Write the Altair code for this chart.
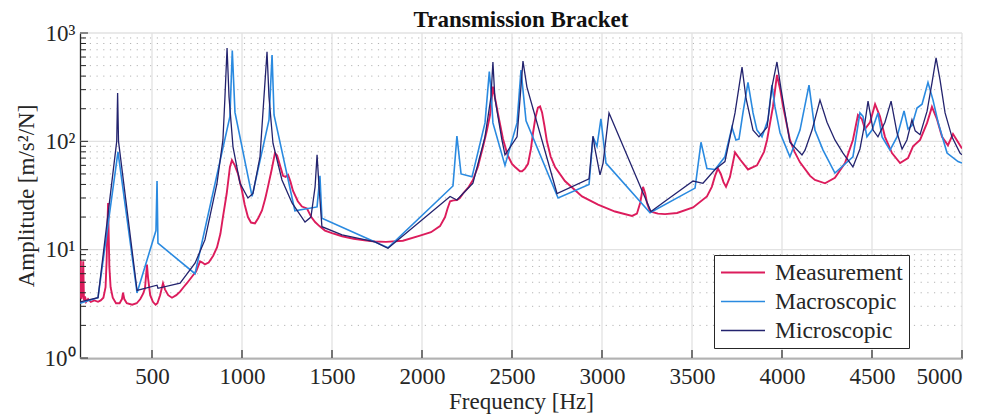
import altair as alt
import pandas as pd

# ---------------- data ----------------
series_names = ["Measurement", "Macroscopic", "Microscopic"]
series_colors = ["#dc1c5c", "#2a8ae0", "#23236e"]

meas_f = [100, 104, 108, 113, 118, 122, 128, 134, 145, 160, 180, 200, 215, 230, 242, 248, 253, 256, 259, 263,
          270, 282, 300, 320, 333, 339, 346, 360, 390, 415, 435, 450, 461, 468, 472, 478, 490, 505, 520, 530,
          545, 561, 572, 590, 611, 635, 656, 675, 694, 710, 728, 745, 767, 780, 794, 815, 840, 861, 880, 894,
          915, 933, 944, 960, 978, 1000, 1015, 1033, 1050, 1072, 1090, 1111, 1130, 1144, 1165, 1183, 1195, 1211,
          1228, 1242, 1256, 1270, 1283, 1310, 1333, 1361, 1385, 1406, 1430, 1461, 1500, 1556, 1620, 1680, 1739,
          1800, 1894, 1989, 2050, 2100, 2128, 2142, 2156, 2175, 2194, 2210, 2228, 2260, 2283, 2310, 2339, 2360,
          2378, 2394, 2408, 2422, 2450, 2475, 2500, 2517, 2544, 2556, 2572, 2589, 2605, 2617, 2630, 2644, 2656,
          2667, 2680, 2694, 2715, 2739, 2794, 2889, 2978, 3072, 3167, 3194, 3212, 3228, 3240, 3250, 3267, 3311,
          3350, 3417, 3506, 3583, 3610, 3628, 3644, 3660, 3675, 3689, 3711, 3739, 3767, 3811, 3861, 3900, 3917,
          3950, 3972, 3990, 4006, 4044, 4070, 4100, 4156, 4183, 4239, 4294, 4350, 4394, 4422, 4444, 4461, 4489,
          4517, 4544, 4572, 4611, 4656, 4700, 4728, 4767, 4806, 4833, 4861, 4889, 4922, 4950, 4975, 5000]
meas_a = [3.6, 8.0, 3.5, 3.8, 7.8, 3.4, 3.7, 3.3, 3.5, 3.3, 3.4, 3.3, 3.4, 3.6, 4.5, 8.0, 18, 27, 15, 7,
          4.5, 3.6, 3.2, 3.2, 3.5, 4.0, 3.5, 3.2, 3.1, 3.2, 3.5, 3.9, 4.4, 6.0, 7.3, 5.5, 3.8, 3.3, 3.1, 3.2,
          3.8, 4.9, 4.3, 3.8, 3.6, 3.8, 4.1, 4.5, 4.9, 5.3, 5.8, 6.3, 7.8, 7.6, 7.3, 7.6, 8.8, 10.5, 14, 20,
          33, 58, 67, 60, 50, 35, 26, 20, 17.8, 17.5, 19.5, 23, 30, 38, 55, 78, 74, 60,
          48, 47, 49, 42, 35, 28, 25, 24, 20, 18, 16.5, 15, 14.2, 13.3, 12.6, 12.2, 11.9,
          11.8, 12.1, 13.5, 14.5, 16.5, 20, 24, 28, 28.5, 28.7, 30, 33, 38, 44, 58, 89, 125,
          175, 320, 240, 180, 105, 75, 62, 58, 53, 53, 56, 62, 85, 120, 165, 205, 210,
          185, 140, 100, 72, 58, 43, 31, 26, 22.5, 20.5, 21.5, 27, 38, 33, 27, 22.5, 21.5,
          21.3, 21.8, 24.5, 31, 38, 48, 56, 50, 42, 38, 47, 79, 68, 55, 60, 80, 103,
          210, 410, 300, 210, 103, 80, 64, 48, 44, 41, 46, 63, 103, 175, 160, 130, 150,
          220, 170, 110, 78, 63, 70, 90, 103, 148, 208, 160, 110, 92, 117, 100, 86]

macro_f = [100, 200, 311, 417, 522, 528, 533, 739, 933, 946, 961, 1056, 1150, 1167, 1178, 1294, 1417, 1433,
           1444, 1811, 2172, 2194, 2217, 2278, 2350, 2374, 2383, 2394, 2461, 2528, 2550, 2578, 2756, 2928,
           2950, 2972, 2994, 3022, 3267, 3517, 3550, 3583, 3628, 3683, 3722, 3744, 3761, 3783, 3811, 3839,
           3861, 3889, 3922, 3944, 3961, 3989, 4044, 4100, 4150, 4183, 4228, 4294, 4394, 4433, 4450, 4472,
           4500, 4533, 4556, 4600, 4639, 4678, 4700, 4722, 4750, 4778, 4811, 4839, 4867, 4917, 4978, 5000]
macro_a = [3.2, 3.6, 80, 4.0, 15, 43, 11.5, 6.0, 170, 690, 185, 31, 158, 627, 175, 22.8, 24.8, 48,
           19.5, 10.4, 38.7, 112, 50, 47, 148, 440, 300, 148, 60, 148, 455, 155, 30, 40,
           110, 90, 161, 63, 21.9, 37, 98, 56, 55, 72, 135, 103, 105, 183, 350, 183,
           127, 110, 158, 330, 208, 120, 72, 127, 330, 127, 83, 51, 72, 183, 170, 110,
           127, 183, 110, 83, 110, 191, 130, 140, 203, 220, 350, 240, 150, 78, 65, 63]

micro_f = [100, 200, 304, 309, 314, 417, 528, 533, 656, 739, 794, 861, 894, 905, 917, 928, 950, 989, 1033,
           1061, 1100, 1122, 1139, 1150, 1172, 1222, 1278, 1350, 1383, 1406, 1417, 1428, 1444, 1556, 1739,
           1811, 2156, 2194, 2228, 2283, 2350, 2383, 2394, 2405, 2444, 2461, 2528, 2561, 2583, 2750, 2928,
           2950, 2961, 2989, 3006, 3039, 3272, 3350, 3506, 3561, 3628, 3683, 3739, 3778, 3800, 3839, 3872,
           3917, 3944, 3972, 3995, 4044, 4111, 4128, 4167, 4211, 4250, 4294, 4339, 4394, 4433, 4461, 4478,
           4506, 4533, 4572, 4606, 4639, 4667, 4694, 4722, 4740, 4767, 4806, 4833, 4856, 4878, 4906, 4944,
           4989, 5000]
micro_a = [3.3, 3.6, 100, 280, 100, 4.2, 4.7, 4.4, 4.9, 7.5, 12.3, 41, 103, 250, 727, 256, 89, 41, 30,
           33, 72, 256, 670, 256, 96, 44, 27, 18, 20, 38, 75, 38, 16.3, 13.7, 11.8,
           10.3, 31, 28.7, 33, 41, 110, 256, 540, 250, 103, 75, 110, 550, 317, 33, 45,
           112, 85, 49, 63, 183, 22.5, 28, 43, 41, 55, 65, 183, 485, 250, 127, 110,
           135, 317, 540, 300, 98, 75, 83, 127, 240, 150, 103, 78, 58, 85, 150, 235,
           127, 110, 150, 235, 120, 85, 103, 158, 125, 115, 190, 345, 590, 370, 183, 110,
           78, 75]

x_ticks = [500, 1000, 1500, 2000, 2500, 3000, 3500, 4000, 4500, 5000]
y_major = [1, 10, 100, 1000]
y_minor = [2, 3, 4, 5, 6, 7, 8, 9, 20, 30, 40, 50, 60, 70, 80, 90, 200, 300, 400, 500, 600, 700, 800, 900]

# ---------------- tables ----------------
frames = []
for name, fs, amps in zip(series_names, [meas_f, macro_f, micro_f], [meas_a, macro_a, micro_a]):
    frames.append(pd.DataFrame({"f": fs, "a": amps, "series": name, "idx": range(len(fs))}))
df = pd.concat(frames, ignore_index=True)

ymaj_df = pd.DataFrame({"a": y_major})
ymin_df = pd.DataFrame({"a": y_minor})
xtick_df = pd.DataFrame({"f": x_ticks})

FONT = "Liberation Serif"
TXT = "#262626"
FS = 23
W, H = 882, 325

xscale = alt.Scale(domain=[100, 5000], nice=False, zero=False)
yscale = alt.Scale(type="log", domain=[1, 1000], nice=False)

label_expr = ("datum.value == 1 ? '10\u2070' : datum.value == 10 ? '10\u00b9' : "
              "datum.value == 100 ? '10\u00b2' : datum.value == 1000 ? '10\u00b3' : ''")

x_axis = alt.Axis(values=x_ticks, format="d", grid=False, ticks=False, domainColor=TXT, domainWidth=1.3,
                  labelFont=FONT, labelFontSize=FS, labelColor=TXT, labelPadding=7,
                  title="Frequency [Hz]", titleFont=FONT, titleFontSize=FS,
                  titleFontWeight="normal", titleColor=TXT, titlePadding=2)
y_axis = alt.Axis(values=y_major, grid=False, ticks=False, domainColor=TXT, domainWidth=1.3,
                  labelExpr=label_expr, labelFont=FONT, labelFontSize=FS, labelColor=TXT,
                  labelPadding=5,
                  title="Amplitude [m/s\u00b2/N]", titleFont=FONT, titleFontSize=FS,
                  titleFontWeight="normal", titleColor=TXT, titlePadding=6)

X = alt.X("f:Q", scale=xscale, axis=x_axis)
Y = alt.Y("a:Q", scale=yscale, axis=y_axis)

# grids under the curves
minor_grid = alt.Chart(ymin_df).mark_rule(color="#b4b4b4", strokeWidth=1, strokeDash=[1.2, 5.5]).encode(y=Y)
major_ygrid = alt.Chart(ymaj_df).mark_rule(color="#e2e2e2", strokeWidth=1.3).encode(y=Y)
major_xgrid = alt.Chart(xtick_df).mark_rule(color="#e2e2e2", strokeWidth=1.3).encode(x=X)

lines = alt.Chart(df).mark_line(clip=True).encode(
    x=X,
    y=Y,
    color=alt.Color("series:N", sort=series_names,
                    scale=alt.Scale(domain=series_names, range=series_colors),
                    legend=alt.Legend(title=None, orient="none", legendX=634, legendY=222,
                                      strokeColor=TXT, fillColor="white", padding=6,
                                      symbolType="stroke", symbolSize=1936, symbolStrokeWidth=1.5,
                                      clipHeight=23,
                                      labelFont=FONT, labelFontSize=23.5, labelColor=TXT,
                                      labelOffset=9, rowPadding=5, labelLimit=300)),
    strokeWidth=alt.StrokeWidth("series:N",
                                scale=alt.Scale(domain=series_names, range=[1.9, 1.3, 1.3]),
                                legend=None),
    order=alt.Order("idx:Q"),
)

yticks_major = alt.Chart(ymaj_df).mark_rule(color=TXT, strokeWidth=1).encode(
    y=Y, x=alt.value(0), x2=alt.value(8))
yticks_minor = alt.Chart(ymin_df).mark_rule(color=TXT, strokeWidth=1).encode(
    y=Y, x=alt.value(0), x2=alt.value(6))
xticks = alt.Chart(xtick_df).mark_rule(color=TXT, strokeWidth=1.2).encode(
    x=X, y=alt.value(H), y2=alt.value(H - 8))

chart = alt.layer(minor_grid, major_ygrid, major_xgrid, lines, yticks_major, yticks_minor, xticks).properties(
    width=W, height=H,
    title=alt.TitleParams("Transmission Bracket", font=FONT, fontSize=FS, fontWeight="bold",
                          color="#111111", anchor="middle", frame="group", offset=5, dy=15),
    autosize=alt.AutoSizeParams(type="none"),
    padding={"left": 80, "top": 33, "right": 22, "bottom": 61},
).configure_view(strokeWidth=0)

chart.save("out.html", embed_options={"renderer": "svg", "actions": False})
